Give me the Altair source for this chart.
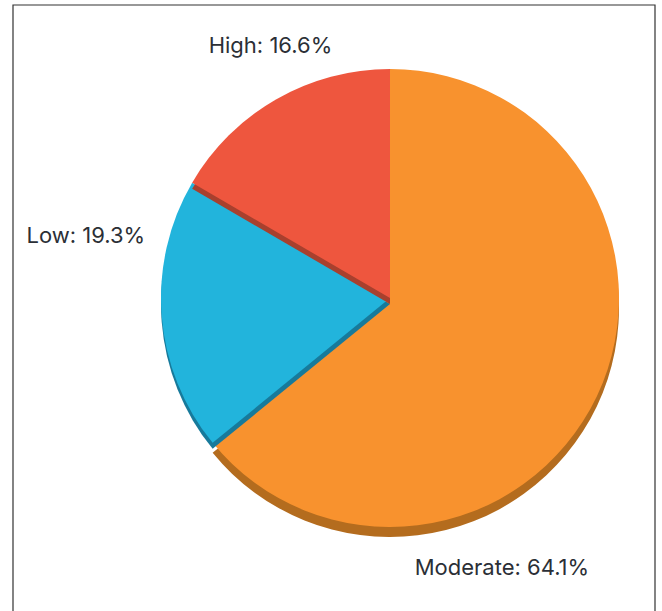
import math
import altair as alt
import pandas as pd

# ---- data ----
categories = ["Moderate", "Low", "High"]
shares = [64.1, 19.3, 16.6]

# ---- styles ----
fill_colors = {"Moderate": "#F8922E", "Low": "#22B4DC", "High": "#EE563E"}
shadow_colors = {"Moderate": "#B46C1E", "Low": "#177A9B", "High": "#A8402E"}
shadow_drop = {"Moderate": 10, "Low": 6, "High": 6}
label_nudge = {"Moderate": (-123, 166), "Low": (-45, -75), "High": (10, -20)}

W, H = 662, 611
CX, CY, R = 390, 298, 229
LABEL_R = 260

df = pd.DataFrame({"category": categories, "share": shares, "rank": list(range(len(categories)))})

base = alt.Chart(df).transform_window(
    cum="sum(share)", sort=[alt.SortField("rank")], frame=[None, 0]
).transform_calculate(
    start="datum.cum - datum.share",
    mid="datum.cum - datum.share / 2",
    label="datum.category + ': ' + format(datum.share, '.1f') + '%'",
)

theta_scale = alt.Scale(domain=[0, 100], range=[0, 2 * math.pi])

layers = []
frame = alt.Chart(df).mark_rect(filled=False, stroke="#333333", strokeWidth=1.2).encode(
    x=alt.value(13), x2=alt.value(655), y=alt.value(5), y2=alt.value(H + 20)
).transform_filter(alt.datum.rank == 0)
layers.append(frame)

for cat in categories:
    sub = base.transform_filter(alt.datum.category == cat)
    shadow = sub.mark_arc(radius=R, color=shadow_colors[cat]).encode(
        theta=alt.Theta("start:Q", scale=theta_scale),
        theta2="cum:Q",
        x=alt.value(CX),
        y=alt.value(CY + shadow_drop[cat]),
    )
    fill = sub.mark_arc(radius=R, color=fill_colors[cat]).encode(
        theta=alt.Theta("start:Q", scale=theta_scale),
        theta2="cum:Q",
        x=alt.value(CX),
        y=alt.value(CY),
    )
    layers += [shadow, fill]

for cat in categories:
    dx, dy = label_nudge[cat]
    txt = base.transform_filter(alt.datum.category == cat).mark_text(
        radius=LABEL_R, dx=dx, dy=dy, align="center", baseline="alphabetic",
        font="Inter", fontSize=22, color="#2B2F36",
    ).encode(
        theta=alt.Theta("mid:Q", scale=theta_scale),
        x=alt.value(CX),
        y=alt.value(CY),
        text="label:N",
    )
    layers.append(txt)

chart = alt.layer(*layers).properties(
    width=W, height=H, padding=0, autosize=alt.AutoSizeParams(type="none"),
    background="white",
).configure_view(stroke=None)

chart.save("out.html", embed_options={"renderer": "svg", "actions": False})
